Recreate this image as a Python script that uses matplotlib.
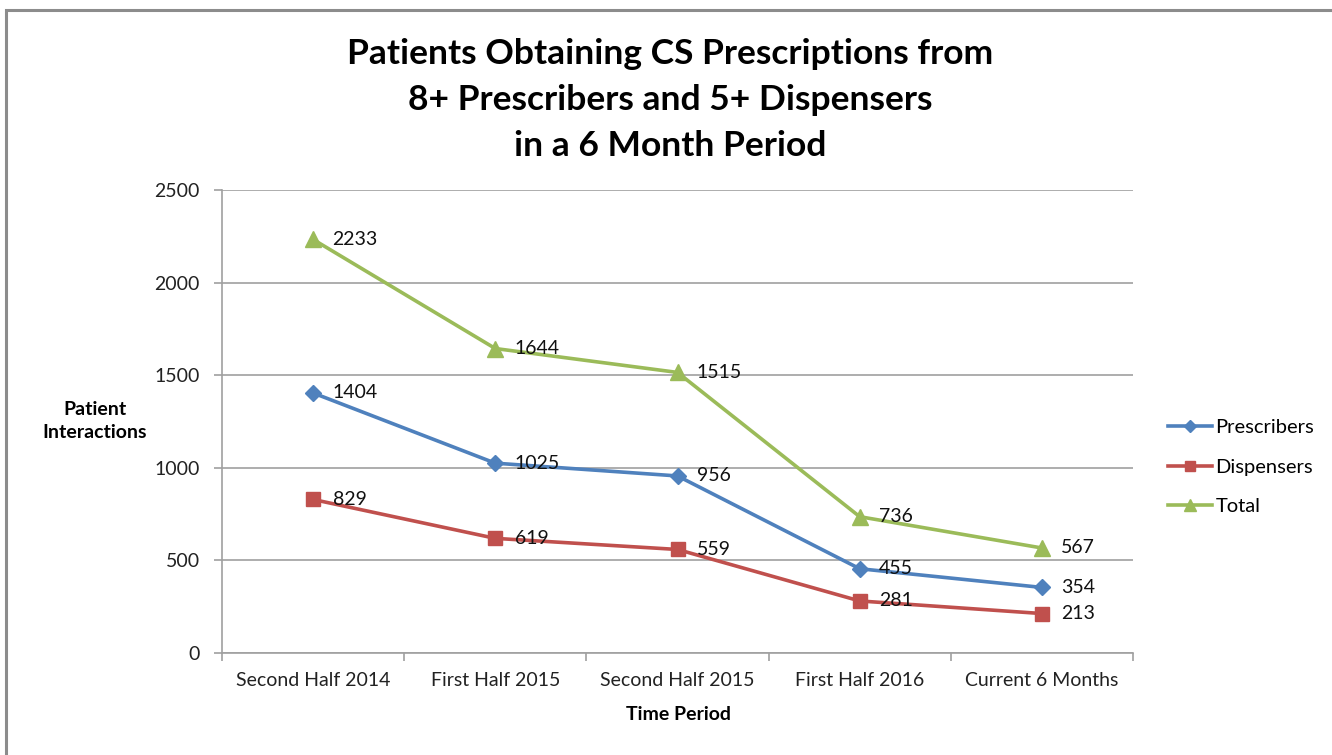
import matplotlib
matplotlib.use("Agg")
import matplotlib.pyplot as plt
from matplotlib.patches import Rectangle
from matplotlib.lines import Line2D

categories = ["Second Half 2014", "First Half 2015", "Second Half 2015", "First Half 2016", "Current 6 Months"]
prescribers = [1404, 1025, 956, 455, 354]
dispensers = [829, 619, 559, 281, 213]
total = [2233, 1644, 1515, 736, 567]
yticks = [0, 500, 1000, 1500, 2000, 2500]

plt.rcParams['font.family'] = ['Lato', 'DejaVu Sans']

W, H = 1332, 755
fig = plt.figure(figsize=(W/100, H/100), dpi=100)
fig.patch.set_facecolor('white')

# border
fig.add_artist(Rectangle((6/W, -0.05), 1.2, 1 - 10/H + 0.05, transform=fig.transFigure,
                         fill=False, edgecolor='#8c8c8c', linewidth=2.2))

left, right, top, bottom = 222, 1133, 190, 653
ax = fig.add_axes([left/W, 1 - bottom/H, (right-left)/W, (bottom-top)/H])

FS = 14
x = list(range(len(categories)))
series = [
    ("Prescribers", prescribers, '#4F81BD', 'D', 8.5),
    ("Dispensers", dispensers, '#C0504D', 's', 10),
    ("Total", total, '#9BBB59', '^', 11.5),
]
handles = []
for name, vals, col, mk, ms in series:
    ax.plot(x, vals, color=col, lw=2.6, marker=mk, markersize=ms, zorder=3)
    handles.append(Line2D([], [], color=col, lw=2.6, marker=mk, markersize=ms*0.75))
    for xi, v in zip(x, vals):
        ax.annotate(str(v), (xi, v), xytext=(14, 0), textcoords='offset points',
                    va='center', ha='left', fontsize=FS, color='#111111', zorder=4)

ax.set_xlim(-0.5, len(categories) - 0.5)
ax.set_ylim(0, 2500)
ax.set_yticks(yticks)
ax.set_yticklabels([str(t) for t in yticks], fontsize=FS, color='#222222')
ax.set_xticks(x)
ax.set_xticklabels(categories, fontsize=FS, color='#222222')
ax.tick_params(axis='x', length=0, pad=14)
ax.set_xticks([i - 0.5 for i in range(len(categories) + 1)], minor=True)
ax.tick_params(axis='x', which='minor', length=6, color='#a0a0a0', width=1.2)
ax.tick_params(axis='y', length=6, color='#a0a0a0', width=1.2, pad=10)
ax.grid(axis='y', color='#a0a0a0', lw=1.2)
ax.set_axisbelow(True)
for s in ['top', 'right']:
    ax.spines[s].set_visible(False)
for s in ['left', 'bottom']:
    ax.spines[s].set_color('#a0a0a0')
    ax.spines[s].set_linewidth(1.2)

fig.text(670/W, 1 - 100/H, "Patients Obtaining CS Prescriptions from\n8+ Prescribers and 5+ Dispensers\nin a 6 Month Period",
         ha='center', va='center', fontsize=25.5, fontweight='bold', linespacing=1.55)
fig.text(95/W, 1 - 421/H, "Patient\nInteractions", ha='center', va='center',
         fontsize=14, fontweight='bold', linespacing=1.45)
fig.text(678/W, 1 - 714/H, "Time Period", ha='center', va='center',
         fontsize=14, fontweight='bold')

leg = fig.legend(handles, [s[0] for s in series], loc='center left',
                 bbox_to_anchor=(1150/W, 1 - 467/H), frameon=False, fontsize=14.5,
                 handlelength=2.2, handletextpad=0.15, labelspacing=1.1)

fig.savefig("out.png", dpi=100)
